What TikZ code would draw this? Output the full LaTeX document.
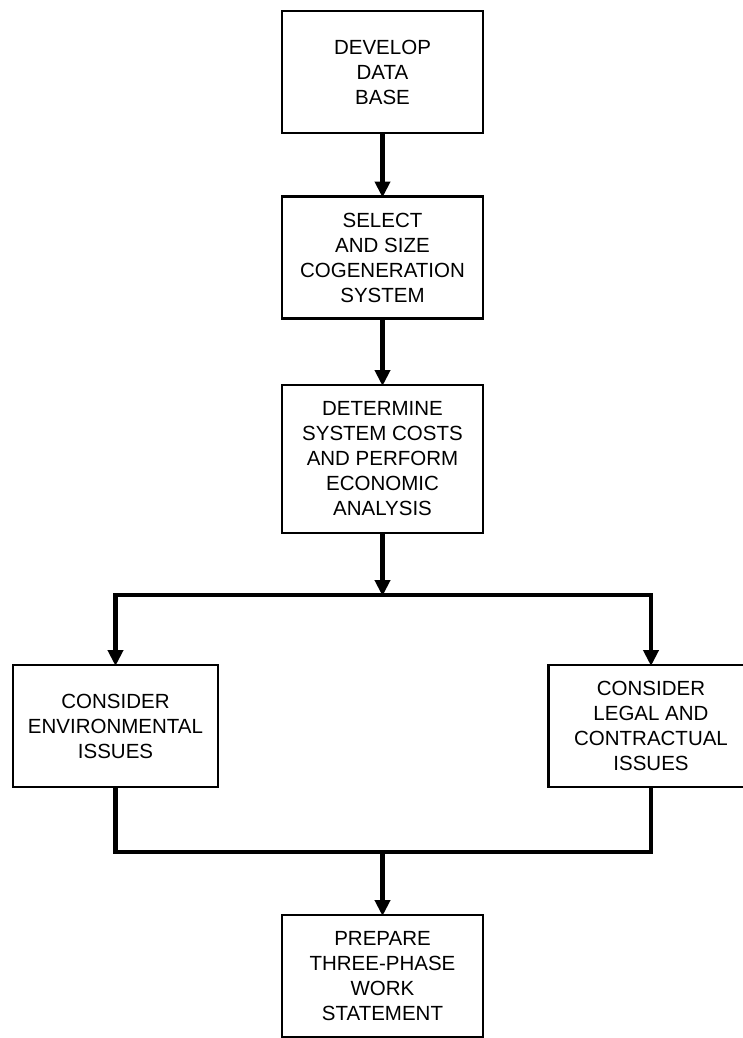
\documentclass[tikz,border=0pt]{standalone}
\usepackage{fontspec}
\setmainfont{Liberation Sans}
\usetikzlibrary{arrows.meta}
\begin{document}
\begin{tikzpicture}[x=1pt,y=-1pt,
  stepbox/.style={draw=black, line width=2.2pt, rectangle, align=center,
    minimum width=201pt, minimum height=122pt, inner sep=0pt, outer sep=0pt,
    font=\fontsize{20.5}{25}\selectfont},
  flow/.style={line width=4.6pt},
  flowarrow/.style={flow, -{Triangle[width=15pt,length=16pt]}, shorten >=-1pt}]
\useasboundingbox (0,0) rectangle (743,1038);
\clip (0,0) rectangle (743,1038);

% process steps
\node[stepbox] (data) at (382.5,72) {DEVELOP\\DATA\\BASE};
\node[stepbox] (size) at (382.5,257.5) {SELECT\\AND SIZE\\COGENERATION\\SYSTEM};
\node[stepbox, minimum height=148pt] (cost) at (382.5,459) {DETERMINE\\SYSTEM COSTS\\AND PERFORM\\ECONOMIC\\ANALYSIS};
\node[stepbox, minimum width=205pt] (env) at (115.5,726) {CONSIDER\\ENVIRONMENTAL\\ISSUES};
\node[stepbox, minimum width=205pt] (legal) at (651,726) {CONSIDER\\LEGAL AND\\CONTRACTUAL\\ISSUES};
\node[stepbox] (work) at (382.5,976) {PREPARE\\THREE-PHASE\\WORK\\STATEMENT};

% split and join points
\coordinate (split) at (382.5,595);
\coordinate (join) at (382.5,852);

% straight sequence
\draw[flowarrow] (data) -- (size);
\draw[flowarrow] (size) -- (cost);
\draw[flowarrow] (cost) -- (split);

% branch to the two parallel steps
\draw[flow, line cap=rect] (env.north |- split) -- (legal.north |- split);
\draw[flowarrow] (env.north |- split) -- (env.north);
\draw[flowarrow] (legal.north |- split) -- (legal.north);

% merge back into the final step
\draw[flow, line join=miter] (env.south) -- (env.south |- join) -- (legal.south |- join) -- (legal.south);
\draw[flowarrow] (join) -- (work);
\end{tikzpicture}
\end{document}
